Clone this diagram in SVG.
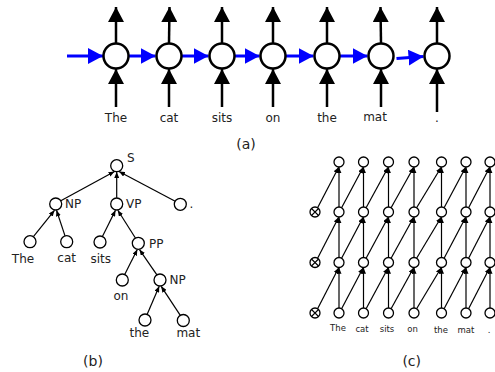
<svg xmlns="http://www.w3.org/2000/svg" width="495" height="372" viewBox="0 0 495 372">
<style>
text{font-family:"DejaVu Sans","Liberation Sans",sans-serif;fill:#222}
.big{fill:#fff;stroke:#000;stroke-width:2.5}
.sm{fill:#fff;stroke:#000;stroke-width:1.3}
.ka{stroke:#000;stroke-width:2.5;fill:none}
.ba{stroke:#0000ff;stroke-width:3;fill:none}
.ta{stroke:#000;stroke-width:1.2;fill:none}
.w12{font-size:12px;text-anchor:middle}
.l12{font-size:12px}
.w8{font-size:8.5px;text-anchor:middle}
.cap{font-size:14px;text-anchor:middle}
</style>
<defs>
<marker id="ah" markerUnits="userSpaceOnUse" markerWidth="16" markerHeight="16" refX="15" refY="8" orient="auto"><path d="M0,0 L15,8 L0,16 z" fill="#000"/></marker>
<marker id="bh" markerUnits="userSpaceOnUse" markerWidth="16" markerHeight="16" refX="15" refY="8" orient="auto"><path d="M0,0 L15,8 L0,16 z" fill="#0000ff"/></marker>
<marker id="sh" markerUnits="userSpaceOnUse" markerWidth="6" markerHeight="5" refX="6" refY="2.5" orient="auto"><path d="M0,0 L6,2.5 L0,5 z" fill="#000"/></marker>
</defs>

<g id="connectors">
<!-- (a) -->
<g class="ka" marker-end="url(#ah)">
<line x1="116" y1="43" x2="116" y2="7"/><line x1="169" y1="43" x2="169.5" y2="7"/><line x1="222" y1="43" x2="222" y2="7"/><line x1="273" y1="43" x2="273" y2="7"/><line x1="327" y1="43" x2="327" y2="7"/><line x1="381" y1="43" x2="380.5" y2="7"/><line x1="437" y1="43" x2="437" y2="7"/>
<line x1="116" y1="107" x2="116" y2="69"/><line x1="169" y1="107" x2="169" y2="69"/><line x1="222" y1="107" x2="222" y2="69"/><line x1="273" y1="107" x2="273" y2="69"/><line x1="327" y1="107" x2="327" y2="69"/><line x1="381" y1="107" x2="381" y2="69"/><line x1="437" y1="112" x2="437" y2="69"/>
</g>
<g class="ba" marker-end="url(#bh)">
<line x1="67" y1="56" x2="103" y2="56"/><line x1="129" y1="56" x2="155.5" y2="56"/><line x1="182" y1="56" x2="208.5" y2="56"/><line x1="235" y1="56" x2="259.5" y2="56"/><line x1="286" y1="56" x2="313.5" y2="56"/><line x1="340" y1="56" x2="367.5" y2="56"/><line x1="396.5" y1="58.5" x2="423.5" y2="56.5"/>
</g>
<!-- (b) -->
<g class="ta" marker-end="url(#sh)">
<line x1="60.8" y1="200.8" x2="114.5" y2="171.5"/><line x1="116.7" y1="197.7" x2="116.7" y2="172"/><line x1="175.2" y1="201.2" x2="119" y2="171.5"/>
<line x1="33.4" y1="236.7" x2="54.5" y2="210.3"/><line x1="65" y1="235.9" x2="56.5" y2="210.3"/>
<line x1="102.4" y1="236.5" x2="115.5" y2="210.3"/><line x1="135.4" y1="238" x2="117.8" y2="210.3"/>
<line x1="124.7" y1="274.5" x2="137.3" y2="249.6"/><line x1="156.9" y1="274.8" x2="139.5" y2="249.6"/>
<line x1="147.1" y1="314.4" x2="159.2" y2="286.3"/><line x1="180.3" y1="315.3" x2="161.2" y2="286.3"/>
</g>
<!-- (c) -->
<g class="ta" marker-end="url(#sh)">
<line x1="339" y1="207" x2="339" y2="167.2"/><line x1="339" y1="257.5" x2="339" y2="217.2"/><line x1="339" y1="308" x2="339" y2="267.7"/>
<line x1="363.5" y1="207" x2="363.5" y2="167.2"/><line x1="363.5" y1="257.5" x2="363.5" y2="217.2"/><line x1="363.5" y1="308" x2="363.5" y2="267.7"/>
<line x1="388.5" y1="207" x2="388.5" y2="167.2"/><line x1="388.5" y1="257.5" x2="388.5" y2="217.2"/><line x1="388.5" y1="308" x2="388.5" y2="267.7"/>
<line x1="414" y1="207" x2="414" y2="167.2"/><line x1="414" y1="257.5" x2="414" y2="217.2"/><line x1="414" y1="308" x2="414" y2="267.7"/>
<line x1="441.5" y1="207" x2="441.5" y2="167.2"/><line x1="441.5" y1="257.5" x2="441.5" y2="217.2"/><line x1="441.5" y1="308" x2="441.5" y2="267.7"/>
<line x1="466" y1="207" x2="466" y2="167.2"/><line x1="466" y1="257.5" x2="466" y2="217.2"/><line x1="466" y1="308" x2="466" y2="267.7"/>
<line x1="490" y1="207" x2="490" y2="167.2"/><line x1="490" y1="257.5" x2="490" y2="217.2"/><line x1="490" y1="308" x2="490" y2="267.7"/>
<line x1="317.6" y1="207.7" x2="338.7" y2="167.2"/><line x1="341.6" y1="207.7" x2="363.2" y2="167.2"/><line x1="366.1" y1="207.7" x2="388.2" y2="167.2"/><line x1="391.1" y1="207.7" x2="413.7" y2="167.2"/><line x1="416.6" y1="207.7" x2="441.2" y2="167.2"/><line x1="444.1" y1="207.7" x2="465.7" y2="167.2"/><line x1="468.6" y1="207.7" x2="489.7" y2="167.2"/>
<line x1="317.6" y1="258.2" x2="338.7" y2="217.2"/><line x1="341.6" y1="258.2" x2="363.2" y2="217.2"/><line x1="366.1" y1="258.2" x2="388.2" y2="217.2"/><line x1="391.1" y1="258.2" x2="413.7" y2="217.2"/><line x1="416.6" y1="258.2" x2="441.2" y2="217.2"/><line x1="444.1" y1="258.2" x2="465.7" y2="217.2"/><line x1="468.6" y1="258.2" x2="489.7" y2="217.2"/>
<line x1="317.6" y1="308.7" x2="338.7" y2="267.7"/><line x1="341.6" y1="308.7" x2="363.2" y2="267.7"/><line x1="366.1" y1="308.7" x2="388.2" y2="267.7"/><line x1="391.1" y1="308.7" x2="413.7" y2="267.7"/><line x1="416.6" y1="308.7" x2="441.2" y2="267.7"/><line x1="444.1" y1="308.7" x2="465.7" y2="267.7"/><line x1="468.6" y1="308.7" x2="489.7" y2="267.7"/>
</g>
</g>

<!-- (a) nodes -->
<g id="a-The"><circle class="big" cx="116" cy="56" r="12.5"/><text class="w12" x="116" y="122">The</text></g>
<g id="a-cat"><circle class="big" cx="169" cy="56" r="12.5"/><text class="w12" x="169" y="122">cat</text></g>
<g id="a-sits"><circle class="big" cx="222" cy="56" r="12.5"/><text class="w12" x="222" y="122">sits</text></g>
<g id="a-on"><circle class="big" cx="273" cy="56" r="12.5"/><text class="w12" x="273" y="122">on</text></g>
<g id="a-the"><circle class="big" cx="327" cy="56" r="12.5"/><text class="w12" x="327" y="122">the</text></g>
<g id="a-mat"><circle class="big" cx="381" cy="56" r="12.5"/><text class="w12" x="375" y="121">mat</text></g>
<g id="a-dot"><circle class="big" cx="437" cy="56" r="12.5"/><text class="w12" x="437" y="122">.</text></g>
<text id="cap-a" class="cap" x="246" y="149">(a)</text>

<!-- (b) nodes -->
<g id="b-S"><circle class="sm" cx="116.7" cy="165.7" r="6"/><text class="l12" x="127" y="162">S</text></g>
<g id="b-NP"><circle class="sm" cx="55.7" cy="204" r="6"/><text class="l12" x="65" y="208">NP</text></g>
<g id="b-VP"><circle class="sm" cx="116.7" cy="204" r="6"/><text class="l12" x="126" y="208">VP</text></g>
<g id="b-dot"><circle class="sm" cx="180.3" cy="204.3" r="6"/><text class="l12" x="189.5" y="208">.</text></g>
<g id="b-The"><circle class="sm" cx="30" cy="241.7" r="6"/><text class="w12" x="23" y="263">The</text></g>
<g id="b-cat"><circle class="sm" cx="66.7" cy="241.7" r="6"/><text class="w12" x="66.7" y="262">cat</text></g>
<g id="b-sits"><circle class="sm" cx="100" cy="242" r="6"/><text class="w12" x="100.7" y="263">sits</text></g>
<g id="b-PP"><circle class="sm" cx="138.3" cy="243.3" r="6"/><text class="l12" x="149" y="248">PP</text></g>
<g id="b-on"><circle class="sm" cx="122.3" cy="280" r="6"/><text class="w12" x="121" y="300">on</text></g>
<g id="b-NP2"><circle class="sm" cx="160" cy="280" r="6"/><text class="l12" x="169.5" y="284">NP</text></g>
<g id="b-the"><circle class="sm" cx="145" cy="320" r="6"/><text class="w12" x="139.3" y="337">the</text></g>
<g id="b-mat"><circle class="sm" cx="183.3" cy="320.5" r="6"/><text class="w12" x="188.3" y="337">mat</text></g>
<text id="cap-b" class="cap" x="93" y="366">(b)</text>

<!-- (c) nodes -->
<g id="c-zero">
<g class="sm"><circle cx="315" cy="212" r="5"/><circle cx="315" cy="262.5" r="5"/><circle cx="315" cy="313" r="5"/></g>
<path d="M311.5,208.5 L318.5,215.5 M318.5,208.5 L311.5,215.5 M311.5,259 L318.5,266 M318.5,259 L311.5,266 M311.5,309.5 L318.5,316.5 M318.5,309.5 L311.5,316.5" stroke="#000" stroke-width="1.1" fill="none"/>
</g>
<g id="c-col1" class="sm"><circle cx="339" cy="162" r="5"/><circle cx="339" cy="212" r="5"/><circle cx="339" cy="262.5" r="5"/><circle cx="339" cy="313" r="5"/></g>
<g id="c-col2" class="sm"><circle cx="363.5" cy="162" r="5"/><circle cx="363.5" cy="212" r="5"/><circle cx="363.5" cy="262.5" r="5"/><circle cx="363.5" cy="313" r="5"/></g>
<g id="c-col3" class="sm"><circle cx="388.5" cy="162" r="5"/><circle cx="388.5" cy="212" r="5"/><circle cx="388.5" cy="262.5" r="5"/><circle cx="388.5" cy="313" r="5"/></g>
<g id="c-col4" class="sm"><circle cx="414" cy="162" r="5"/><circle cx="414" cy="212" r="5"/><circle cx="414" cy="262.5" r="5"/><circle cx="414" cy="313" r="5"/></g>
<g id="c-col5" class="sm"><circle cx="441.5" cy="162" r="5"/><circle cx="441.5" cy="212" r="5"/><circle cx="441.5" cy="262.5" r="5"/><circle cx="441.5" cy="313" r="5"/></g>
<g id="c-col6" class="sm"><circle cx="466" cy="162" r="5"/><circle cx="466" cy="212" r="5"/><circle cx="466" cy="262.5" r="5"/><circle cx="466" cy="313" r="5"/></g>
<g id="c-col7" class="sm"><circle cx="490" cy="162" r="5"/><circle cx="490" cy="212" r="5"/><circle cx="490" cy="262.5" r="5"/><circle cx="490" cy="313" r="5"/></g>
<g id="c-labels">
<text class="w8" x="338" y="331">The</text><text class="w8" x="362" y="331.5">cat</text><text class="w8" x="387" y="331.5">sits</text><text class="w8" x="412.5" y="332">on</text><text class="w8" x="441" y="332.5">the</text><text class="w8" x="466" y="332.5">mat</text><text class="w8" x="489" y="332.5">.</text>
</g>
<text id="cap-c" class="cap" x="411.7" y="366">(c)</text>
</svg>
